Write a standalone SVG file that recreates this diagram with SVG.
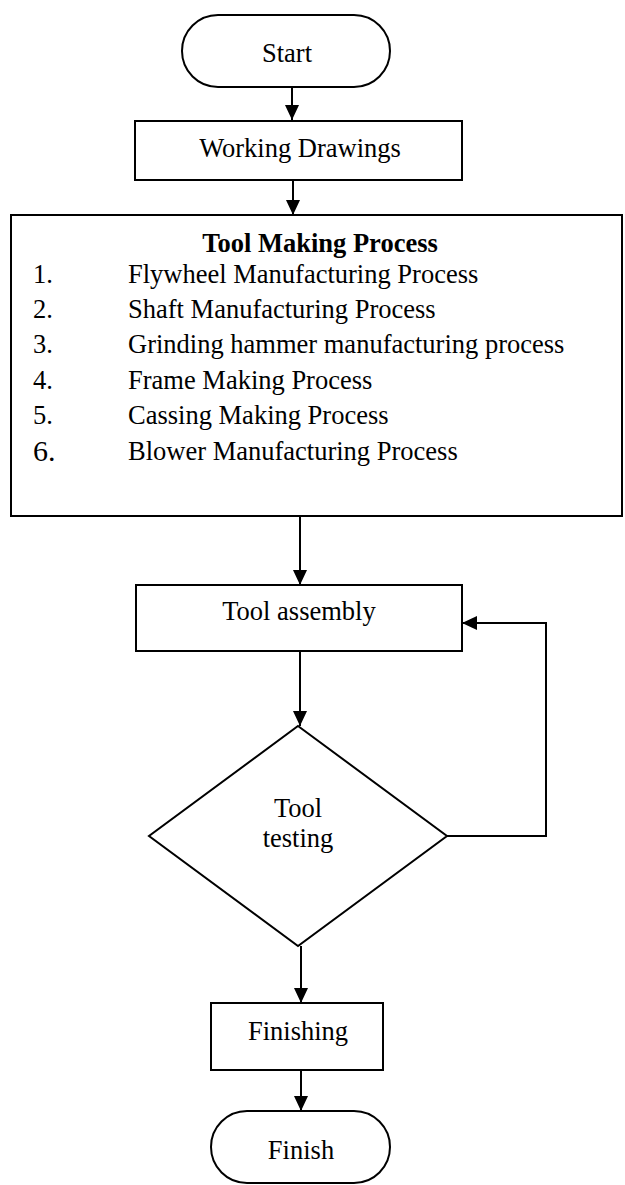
<svg xmlns="http://www.w3.org/2000/svg" width="625" height="1185" viewBox="0 0 625 1185">
  <defs>
    <style>
      .shape { fill: #ffffff; stroke: #000000; stroke-width: 2; }
      .label { font-family: "Liberation Serif", "Times New Roman", serif; font-size: 26.5px; fill: #000000; }
      .mid { text-anchor: middle; }
      .bold { font-weight: bold; }
      .big { font-size: 30px; }
      .edge { fill: none; stroke: #000000; stroke-width: 2; }
    </style>
    <marker id="arrow" viewBox="0 0 15 14" refX="15" refY="7" markerWidth="15" markerHeight="14" markerUnits="userSpaceOnUse" orient="auto">
      <path d="M0,0 L15,7 L0,14 Z" fill="#000000"/>
    </marker>
  </defs>

  <rect width="625" height="1185" fill="#ffffff"/>

  <!-- connectors -->
  <g id="connectors">
    <line class="edge" x1="292" y1="87" x2="292" y2="120" marker-end="url(#arrow)"/>
    <line class="edge" x1="293" y1="180" x2="293" y2="215" marker-end="url(#arrow)"/>
    <line class="edge" x1="300" y1="516" x2="300" y2="585" marker-end="url(#arrow)"/>
    <line class="edge" x1="300" y1="651" x2="300" y2="726" marker-end="url(#arrow)"/>
    <polyline class="edge" points="447,836 546,836 546,623 462,623" marker-end="url(#arrow)"/>
    <line class="edge" x1="301" y1="946" x2="301" y2="1003" marker-end="url(#arrow)"/>
    <line class="edge" x1="301" y1="1070" x2="301" y2="1111" marker-end="url(#arrow)"/>
  </g>

  <!-- start terminal -->
  <g id="start">
    <rect class="shape" x="182" y="15" width="208" height="72" rx="36" ry="36"/>
    <text class="label mid" x="287" y="62">Start</text>
  </g>

  <!-- working drawings -->
  <g id="working-drawings">
    <rect class="shape" x="135" y="121" width="327" height="59"/>
    <text class="label mid" x="300" y="157">Working Drawings</text>
  </g>

  <!-- tool making process -->
  <g id="tool-making-process">
    <rect class="shape" x="11" y="215" width="611" height="301"/>
    <text class="label mid bold" x="320" y="252">Tool Making Process</text>
    <text class="label" x="33" y="283">1.</text>
    <text class="label" x="128" y="283">Flywheel Manufacturing Process</text>
    <text class="label" x="33" y="318">2.</text>
    <text class="label" x="128" y="318">Shaft Manufacturing Process</text>
    <text class="label" x="33" y="353">3.</text>
    <text class="label" x="128" y="353">Grinding hammer manufacturing process</text>
    <text class="label" x="33" y="389">4.</text>
    <text class="label" x="128" y="389">Frame Making Process</text>
    <text class="label" x="33" y="424">5.</text>
    <text class="label" x="128" y="424">Cassing Making Process</text>
    <text class="label big" x="33" y="461">6.</text>
    <text class="label" x="128" y="460">Blower Manufacturing Process</text>
  </g>

  <!-- tool assembly -->
  <g id="tool-assembly">
    <rect class="shape" x="136" y="585" width="326" height="66"/>
    <text class="label mid" x="299" y="620">Tool assembly</text>
  </g>

  <!-- tool testing decision -->
  <g id="tool-testing">
    <polygon class="shape" points="298,726 447,836 298,946 149,836"/>
    <text class="label mid" x="298" y="817">Tool</text>
    <text class="label mid" x="298" y="847">testing</text>
  </g>

  <!-- finishing -->
  <g id="finishing">
    <rect class="shape" x="211" y="1003" width="172" height="67"/>
    <text class="label mid" x="298" y="1040">Finishing</text>
  </g>

  <!-- finish terminal -->
  <g id="finish">
    <rect class="shape" x="211" y="1111" width="179" height="72" rx="36" ry="36"/>
    <text class="label mid" x="301" y="1159">Finish</text>
  </g>
</svg>
